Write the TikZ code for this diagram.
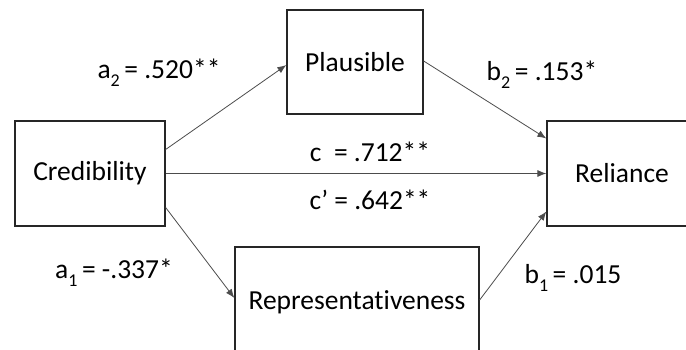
\documentclass[tikz,border=0pt]{standalone}
\usepackage{fontspec}
\setmainfont[Ligatures={NoCommon}]{Carlito}
\usetikzlibrary{arrows.meta,calc}
\newcommand{\sbs}[1]{\raisebox{-0.28em}{\fontsize{18}{18}\selectfont #1}}
\begin{document}
\begin{tikzpicture}[x=1pt,y=-1pt,
  box/.style={draw=black!85,line width=1.3pt,inner sep=0pt,font=\fontsize{27.5}{32}\selectfont},
  conn/.style={draw=black!70,line width=0.8pt,-{Latex[length=9pt,width=7pt]}},
  lbl/.style={font=\fontsize{27.5}{32}\selectfont,inner sep=0pt}]
\useasboundingbox (0,0) rectangle (686,350);
\clip (0,0) rectangle (686,350);
\node[box,minimum width=150pt,minimum height=105pt] (cred) at (90,173.5) {Credibility};
\node[box,minimum width=136pt,minimum height=104pt] (plaus) at (355,62) {Plausible};
\node[box,minimum width=150pt,minimum height=105pt] (rel) at (622,173.5) {Reliance};
\node[box,minimum width=244pt,minimum height=110pt] (rep) at (357,302) {Representativeness};
\draw[conn] ($(cred.east)+(0,-24)$) -- ($(plaus.west)+(0,3)$);
\draw[conn] ($(plaus.east)+(0,-1)$) -- ($(rel.west)+(0,-35)$);
\draw[conn] (cred.east) -- (rel.west);
\draw[conn] ($(cred.east)+(0,34)$) -- ($(rep.west)+(0,-4)$);
\draw[conn] ($(rep.east)+(0,-2)$) -- ($(rel.west)+(0,38)$);
\node[lbl] (la2) at (159,73) {a\sbs{2}\,= .520**};
\node[lbl] (lb2) at (542,75) {b\sbs{2}\,= .153*};
\node[lbl] (lc) at (370,152) {c\ \ = .712**};
\node[lbl] (lcp) at (370,200) {c’ = .642**};
\node[lbl] (la1) at (114,273) {a\sbs{1}\,= -.337*};
\node[lbl] (lb1) at (573,278) {b\sbs{1}\,= .015};
\end{tikzpicture}
\end{document}
